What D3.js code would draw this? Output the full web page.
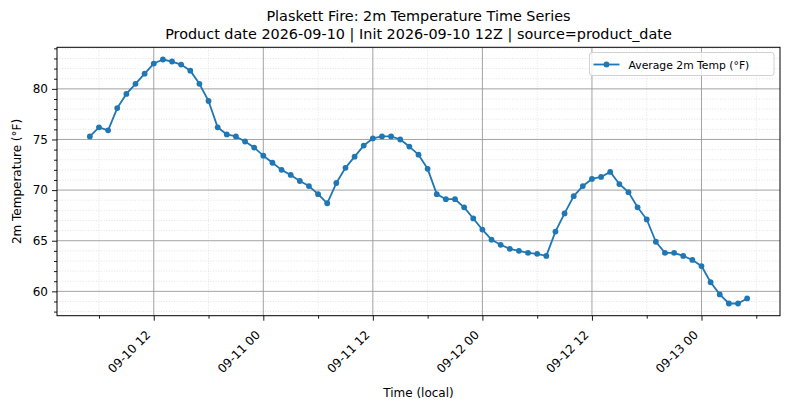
<!DOCTYPE html>
<html>
<head>
<meta charset="utf-8">
<script src="https://cdn.jsdelivr.net/npm/d3@7"></script>
<style>
  body { margin: 0; background: #fff; }
  svg { font-family: "DejaVu Sans", sans-serif; }
</style>
</head>
<body>
<script>
// hourly series, starting 2026-09-10 05:00 local
var startTime = new Date(2026, 8, 10, 5);
var temps = [
  75.3, 76.2, 75.9, 78.1, 79.5, 80.5, 81.5, 82.5, 82.9, 82.7,
  82.4, 81.8, 80.5, 78.8, 76.2, 75.5, 75.3, 74.8, 74.2, 73.4,
  72.7, 72.0, 71.5, 70.9, 70.4, 69.6, 68.7, 70.7, 72.2, 73.3,
  74.4, 75.1, 75.3, 75.3, 75.0, 74.3, 73.5, 72.1, 69.6, 69.1,
  69.1, 68.3, 67.2, 66.1, 65.1, 64.6, 64.2, 64.0, 63.8, 63.7,
  63.5, 65.9, 67.7, 69.4, 70.4, 71.1, 71.3, 71.8, 70.6, 69.8,
  68.3, 67.1, 64.9, 63.8, 63.8, 63.5, 63.1, 62.5, 60.9, 59.7,
  58.8, 58.8, 59.3
];
var yMajor = [60, 65, 70, 75, 80];
var titleLines = [
  "Plaskett Fire: 2m Temperature Time Series",
  "Product date 2026-09-10 | Init 2026-09-10 12Z | source=product_date"
];
var seriesName = "Average 2m Temp (°F)";

var data = temps.map(function(v, i){
  return { t: d3.timeHour.offset(startTime, i), v: v };
});

var width = 790, height = 409;
var pL = 57, pR = 780, pT = 47.3, pB = 315.7;
var blue = "#1f77b4";

var svg = d3.select("body").append("svg")
  .attr("width", width)
  .attr("height", height);

// matplotlib style 5% margins
var t0 = data[0].t, t1 = data[data.length - 1].t;
var span = t1 - t0;
var x = d3.scaleTime()
  .domain([new Date(+t0 - span * 0.05), new Date(+t1 + span * 0.05)])
  .range([pL, pR]);

var vMin = d3.min(temps), vMax = d3.max(temps), vr = vMax - vMin;
var y = d3.scaleLinear()
  .domain([vMin - vr * 0.05, vMax + vr * 0.05])
  .range([pB, pT]);

var xMajor = x.ticks(d3.timeHour.every(12));
var xMinor = x.ticks(d3.timeHour.every(6)).filter(function(d){ return d.getHours() % 12 != 0; });
var yMinor = d3.range(Math.ceil(y.domain()[0]), Math.floor(y.domain()[1]) + 1)
  .filter(function(d){ return yMajor.indexOf(d) < 0; });

//minor grid
var grid = svg.append("g");
grid.selectAll(".gxm").data(xMinor).enter().append("line")
  .attr("x1", function(d){ return x(d); }).attr("x2", function(d){ return x(d); })
  .attr("y1", pT).attr("y2", pB)
  .attr("stroke", "#dddddd").attr("stroke-width", 0.8).attr("stroke-dasharray", "1,1.6");
grid.selectAll(".gym").data(yMinor).enter().append("line")
  .attr("x1", pL).attr("x2", pR)
  .attr("y1", function(d){ return y(d); }).attr("y2", function(d){ return y(d); })
  .attr("stroke", "#dddddd").attr("stroke-width", 0.8).attr("stroke-dasharray", "1,1.6");

//major grid
grid.selectAll(".gx").data(xMajor).enter().append("line")
  .attr("x1", function(d){ return x(d); }).attr("x2", function(d){ return x(d); })
  .attr("y1", pT).attr("y2", pB)
  .attr("stroke", "#999999").attr("stroke-width", 0.9);
grid.selectAll(".gy").data(yMajor).enter().append("line")
  .attr("x1", pL).attr("x2", pR)
  .attr("y1", function(d){ return y(d); }).attr("y2", function(d){ return y(d); })
  .attr("stroke", "#999999").attr("stroke-width", 0.9);

//line + markers
var line = d3.line()
  .x(function(d){ return x(d.t); })
  .y(function(d){ return y(d.v); });

svg.append("path")
  .datum(data)
  .attr("fill", "none")
  .attr("stroke", blue)
  .attr("stroke-width", 1.8)
  .attr("stroke-linejoin", "round")
  .attr("d", line);

svg.selectAll(".pt").data(data).enter().append("circle")
  .attr("cx", function(d){ return x(d.t); })
  .attr("cy", function(d){ return y(d.v); })
  .attr("r", 2.9)
  .attr("fill", blue);

//axes
var fmt = d3.timeFormat("%m-%d %H");
var xAxis = svg.append("g").attr("transform", "translate(0," + pB + ")");
xAxis.call(d3.axisBottom(x).tickValues(xMajor).tickSize(5).tickFormat(fmt));
xAxis.select(".domain").remove();
xAxis.selectAll("text")
  .attr("font-size", "12px")
  .attr("font-family", "DejaVu Sans")
  .attr("fill", "#000")
  .attr("text-anchor", "end")
  .attr("dy", 0)
  .attr("y", 0)
  .attr("transform", "translate(-3,20) rotate(-45)");
svg.append("g").attr("transform", "translate(0," + pB + ")")
  .call(d3.axisBottom(x).tickValues(xMinor).tickSize(3).tickFormat(""))
  .select(".domain").remove();

var yAxis = svg.append("g").attr("transform", "translate(" + pL + ",0)");
yAxis.call(d3.axisLeft(y).tickValues(yMajor).tickSize(5).tickPadding(4));
yAxis.select(".domain").remove();
yAxis.selectAll("text").attr("font-size", "12px").attr("font-family", "DejaVu Sans").attr("fill", "#000");
svg.append("g").attr("transform", "translate(" + pL + ",0)")
  .call(d3.axisLeft(y).tickValues(yMinor).tickSize(3).tickFormat(""))
  .select(".domain").remove();

svg.selectAll(".tick line").attr("stroke", "#000").attr("stroke-width", 0.9);

//frame
svg.append("rect")
  .attr("x", pL).attr("y", pT)
  .attr("width", pR - pL).attr("height", pB - pT)
  .attr("fill", "none").attr("stroke", "#000").attr("stroke-width", 1);

//titles and labels
svg.selectAll(".title").data(titleLines).enter().append("text")
  .attr("x", (pL + pR) / 2)
  .attr("y", function(d, i){ return 20.7 + i * 18.6; })
  .attr("text-anchor", "middle")
  .attr("font-size", "14.4px")
  .text(function(d){ return d; });

svg.append("text")
  .attr("x", (pL + pR) / 2).attr("y", 397)
  .attr("text-anchor", "middle").attr("font-size", "12px")
  .text("Time (local)");

svg.append("text")
  .attr("transform", "translate(21," + (pT + pB) / 2 + ") rotate(-90)")
  .attr("text-anchor", "middle").attr("font-size", "12px")
  .text("2m Temperature (°F)");

//legend
var lg = svg.append("g").attr("transform", "translate(589.5,52.5)");
lg.append("rect")
  .attr("width", 184.5).attr("height", 23).attr("rx", 2.5)
  .attr("fill", "#fff").attr("fill-opacity", 0.8)
  .attr("stroke", "#cccccc").attr("stroke-width", 0.9);
lg.append("line")
  .attr("x1", 4).attr("x2", 30).attr("y1", 12).attr("y2", 12)
  .attr("stroke", blue).attr("stroke-width", 1.8);
lg.append("circle").attr("cx", 17).attr("cy", 12).attr("r", 2.9).attr("fill", blue);
lg.append("text")
  .attr("x", 39).attr("y", 16)
  .attr("font-size", "10.8px")
  .text(seriesName);
</script>
</body>
</html>
